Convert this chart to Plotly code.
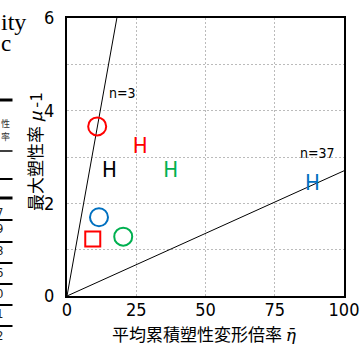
import plotly.graph_objects as go

# data
circle_x = [10.9, 11.55, 20.3]
circle_y = [3.66, 1.70, 1.28]
circle_c = ["#FF0000", "#0070C0", "#00B050"]
square_x = [9.3]
square_y = [1.23]
h_x = [26.4, 15.3, 37.4, 88.6]
h_y = [3.20, 2.68, 2.68, 2.40]
h_c = ["#FF0000", "#000000", "#00B050", "#0070C0"]
n_values = [3, 37]
x_ticks = [0, 25, 50, 75, 100]
y_ticks = [0, 2, 4, 6]
frag_digits = ["7", "9", "8", "6", "0", "1", "2"]

W, H = 362, 344
L, R, T, B = 67, 18, 18, 48
pw, ph = W - L - R, H - T - B


def px(x):
    return (x - L) / pw


def py(y):
    return (H - B - y) / ph


NARROW = "DejaVu Sans Condensed, Liberation Sans Narrow, Arial Narrow, sans-serif"
CJK = "Noto Sans CJK JP"

fig = go.Figure()

# reference lines eta = n (mu-1)
for n in n_values:
    xe = min(100, 6 * n)
    fig.add_trace(go.Scatter(x=[0, xe], y=[0, xe / n], mode="lines",
                             line=dict(color="black", width=1), showlegend=False,
                             hoverinfo="skip"))

fig.add_trace(go.Scatter(x=circle_x, y=circle_y, mode="markers", showlegend=False,
                         marker=dict(symbol="circle-open", size=18,
                                     color=circle_c, line=dict(width=2, color=circle_c))))
fig.add_trace(go.Scatter(x=square_x, y=square_y, mode="markers", showlegend=False,
                         marker=dict(symbol="square-open", size=15,
                                     color="#FF0000", line=dict(width=2, color="#FF0000"))))
fig.add_trace(go.Scatter(x=h_x, y=h_y, mode="text", text=["H"] * len(h_x), showlegend=False,
                         textposition="middle center",
                         textfont=dict(family=NARROW, size=22, color=h_c)))

fig.add_annotation(x=14.4, y=4.38, text="n=3", showarrow=False, xanchor="left",
                   yanchor="middle", font=dict(family=NARROW, size=14, color="black"))
fig.add_annotation(x=97.6, y=3.09, text="n=37", showarrow=False, xanchor="right",
                   yanchor="middle", font=dict(family=NARROW, size=14, color="black"))


def note(x, y, text, font, xanchor="center", **kw):
    fig.add_annotation(xref="paper", yref="paper", x=px(x), y=py(y), text=text,
                       showarrow=False, xanchor=xanchor, yanchor="middle",
                       font=font, **kw)


# axis titles
note(204, 333,
     "平均累積塑性変形倍率 <span style=\"font-family:'DejaVu Serif'\"><i>η̄</i></span>",
     dict(family=CJK, size=17, color="black"))
note(34, 152, "最大塑性率 <i>μ</i> -1", dict(family=CJK, size=17, color="black"),
     textangle=-90)

# cropped fragments of the surrounding page at the left edge
note(-1, 22, "ity", dict(family="Liberation Serif", size=24, color="black"), xanchor="left")
note(-1, 43, "c", dict(family="Liberation Serif", size=23, color="black"), xanchor="left")
note(5.5, 124, "性", dict(family=CJK, size=9, color="#333333"))
note(5.5, 136, "率", dict(family=CJK, size=9, color="#333333"))
digit_y = [212, 228, 250, 272, 293, 313, 335]
for d, yy in zip(frag_digits, digit_y):
    note(4.5, yy, d, dict(family=NARROW, size=13, color="#222222"), xanchor="right")
for yy, w in [(100, 3), (151, 1.5), (179, 2), (198, 3), (220, 2), (242, 2),
              (263, 2), (284, 2), (305, 2), (326, 2)]:
    fig.add_shape(type="line", xref="paper", yref="paper", x0=px(0), x1=px(12.5),
                  y0=py(yy), y1=py(yy), line=dict(color="black", width=w))

fig.update_xaxes(range=[0, 100], tickvals=x_ticks, ticks="", showgrid=True,
                 gridcolor="#BBBBBB", griddash="2px,2px", gridwidth=1,
                 showline=True, linecolor="black", linewidth=2, mirror=True,
                 zeroline=False, ticklabelstandoff=-4, automargin=False,
                 tickfont=dict(family=NARROW, size=18, color="black"))
fig.update_yaxes(range=[0, 6], tickvals=y_ticks, ticks="", showgrid=True,
                 gridcolor="#BBBBBB", griddash="2px,2px", gridwidth=1,
                 minor=dict(dtick=1, showgrid=True, gridcolor="#BBBBBB",
                            griddash="2px,2px", gridwidth=1),
                 showline=True, linecolor="black", linewidth=2, mirror=True,
                 zeroline=False, ticklabelstandoff=7, automargin=False,
                 tickfont=dict(family=NARROW, size=18, color="black"))

fig.update_layout(width=W, height=H, margin=dict(l=L, r=R, t=T, b=B),
                  plot_bgcolor="white", paper_bgcolor="white")

fig.write_html("out.html", config={"displayModeBar": False},
               post_script="document.body.style.margin='0';")
